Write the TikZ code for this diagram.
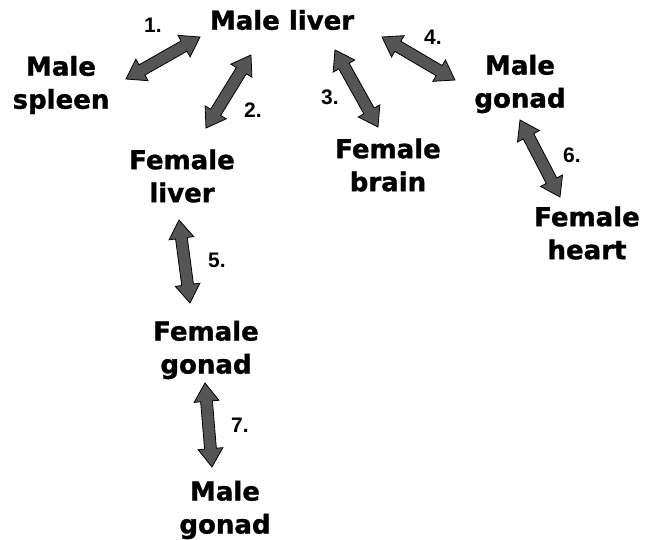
\documentclass[tikz,border=0pt]{standalone}
\usepackage{fontspec}
\newfontfamily\orgfont[BoldFont={DejaVu Sans Bold},BoldFeatures={FakeBold=1.2}]{DejaVu Sans}
\newfontfamily\numfont[BoldFont={Liberation Sans Bold}]{Liberation Sans}
\usetikzlibrary{shapes.arrows,calc}
\definecolor{arrfill}{HTML}{555555}
\tikzset{
  organ/.style={font=\orgfont\bfseries\fontsize{26}{33}\selectfont, align=center, inner sep=0pt},
  num/.style={font=\numfont\bfseries\fontsize{21}{24}\selectfont, inner sep=0pt},
  garrow/.style={double arrow, draw=black, fill=arrfill, line width=0.8pt,
    inner xsep=0pt, inner ysep=5.5pt, double arrow head extend=6.5pt,
    double arrow tip angle=68, outer sep=0pt}
}
\newcommand\dblarr[2]{\path let \p1=(#1), \p2=(#2), \n1={atan2(\y2-\y1,\x2-\x1)}, \n2={veclen(\x2-\x1,\y2-\y1)} in node[garrow, rotate=\n1, minimum height=\n2] at ($(#1)!0.5!(#2)$) {};}
\begin{document}
\begin{tikzpicture}[x=1pt,y=1pt]
\useasboundingbox (0,0) rectangle (651,539);
% organs
\node[organ] (mliver) at (282,519) {Male liver};
\node[organ] (mspleen) at (61,454) {Male\\spleen};
\node[organ] (fliver) at (182,363) {Female\\liver};
\node[organ] (fbrain) at (388,374) {Female\\brain};
\node[organ] (mgonad) at (520,455) {Male\\gonad};
\node[organ] (fheart) at (587,306) {Female\\heart};
\node[organ] (fgonad) at (206,189) {Female\\gonad};
\node[organ] (mgonadb) at (225,29) {Male\\gonad};
% arrow ends
\coordinate (a1s) at (126,460); \coordinate (a1e) at (200,502);
\coordinate (a2s) at (206,411); \coordinate (a2e) at (251,484);
\coordinate (a3s) at (335,489); \coordinate (a3e) at (378,412);
\coordinate (a4s) at (382,502); \coordinate (a4e) at (455,459);
\coordinate (a5s) at (179,319); \coordinate (a5e) at (190,236);
\coordinate (a6s) at (520,419); \coordinate (a6e) at (560,342);
\coordinate (a7s) at (205,156); \coordinate (a7e) at (212,72);
\dblarr{a1s}{a1e}
\dblarr{a2s}{a2e}
\dblarr{a3s}{a3e}
\dblarr{a4s}{a4e}
\dblarr{a5s}{a5e}
\dblarr{a6s}{a6e}
\dblarr{a7s}{a7e}
% labels
\node[num] (n1) at (153,514) {1.};
\node[num] (n2) at (253,429) {2.};
\node[num] (n3) at (330,442) {3.};
\node[num] (n4) at (433,502) {4.};
\node[num] (n5) at (217,279) {5.};
\node[num] (n6) at (572,384) {6.};
\node[num] (n7) at (240,114) {7.};
\end{tikzpicture}
\end{document}
